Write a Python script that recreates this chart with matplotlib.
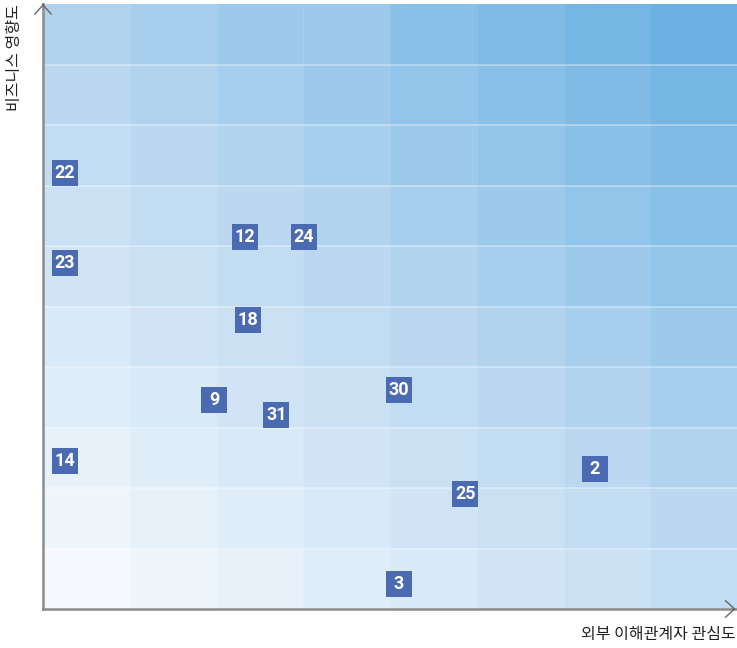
import matplotlib.pyplot as plt
from matplotlib.patches import Rectangle
import numpy as np

plt.rcParams['font.family'] = ['Noto Sans CJK KR', 'DejaVu Sans']

# issue numbers and their positions (x: stakeholder interest, y: business impact)
issue_ids = ["22", "12", "24", "23", "18", "9", "30", "31", "14", "2", "25", "3"]
interest = [0.25, 2.33, 3.01, 0.25, 2.36, 1.97, 4.10, 2.69, 0.25, 6.36, 4.87, 4.10]
impact = [7.21, 6.15, 6.15, 5.72, 4.78, 3.45, 3.62, 3.21, 2.45, 2.31, 1.90, 0.41]

# shade level of each background cell, top row first
shade = [
    [9, 10, 11, 11, 13, 14, 15, 16],
    [8, 9, 10, 11, 12, 13, 14, 15],
    [7, 8, 9, 10, 11, 12, 13, 14],
    [6, 7, 8, 9, 10, 11, 12, 13],
    [5, 6, 7, 8, 9, 10, 11, 12],
    [4, 5, 6, 7, 8, 9, 10, 11],
    [3, 4, 5, 6, 7, 8, 9, 10],
    [2, 3, 4, 5, 6, 7, 8, 9],
    [1, 2, 3, 4, 5, 6, 7, 8],
    [0, 1, 2, 3, 4, 5, 6, 7],
]

n_rows = len(shade)
n_cols = len(shade[0])
ramp = np.array([[0xf5, 0xf9, 0xfd], [0xbb, 0xd8, 0xf0], [0x6b, 0xb1, 0xe2]]) / 255


def shade_color(level):
    if level <= 8:
        t = level / 8
        return ramp[0] + (ramp[1] - ramp[0]) * t
    t = (level - 8) / 8
    return ramp[1] + (ramp[2] - ramp[1]) * t


fig = plt.figure(figsize=(7.37, 6.48), dpi=100)
ax = fig.add_axes([43 / 737, 1 - 609 / 648, (737 - 43) / 737, 605 / 648])
ax.set_xlim(0, n_cols)
ax.set_ylim(0, n_rows)

for r in range(n_rows):
    for c in range(n_cols):
        ax.add_patch(Rectangle((c, n_rows - 1 - r), 1, 1, facecolor=shade_color(shade[r][c]),
                               edgecolor='none', zorder=1))
# thin light row separators
for r in range(1, n_rows):
    ax.axhline(r, color='white', lw=1.2, alpha=0.4, zorder=2)
for c in range(1, n_cols):
    ax.axvline(c, color='white', lw=0.8, alpha=0.1, zorder=2)

ax.scatter(interest, impact, marker='s', s=370, color='#4a6bb2', zorder=4, linewidths=0)
for name, x, y in zip(issue_ids, interest, impact):
    ax.text(x, y, name, ha='center', va='center', color='white', fontsize=13,
            fontweight='bold', family=['Roboto', 'DejaVu Sans'], zorder=5)

for s in ax.spines.values():
    s.set_visible(False)
ax.set_xticks([])
ax.set_yticks([])

ax.plot([0, 1], [0, 0], transform=ax.transAxes, color='#8c8c8c', lw=1.8, clip_on=False, zorder=6)
ax.plot([0, 0], [0, 1], transform=ax.transAxes, color='#8c8c8c', lw=1.8, clip_on=False, zorder=6)
head = '->, head_length=0.33, head_width=0.3'
ax.annotate('', xy=(0.998, 0), xytext=(0.994, 0), xycoords='axes fraction',
            arrowprops=dict(arrowstyle=head, color='#666666', lw=1.0, mutation_scale=20),
            annotation_clip=False, zorder=7)
ax.annotate('', xy=(0, 1.0), xytext=(0, 0.995), xycoords='axes fraction',
            arrowprops=dict(arrowstyle=head, color='#666666', lw=1.0, mutation_scale=20),
            annotation_clip=False, zorder=7)

fig.text(736 / 737, 1 - 634 / 648, '외부 이해관계자 관심도', ha='right', va='center', fontsize=11.5, color='#222222')
fig.text(15 / 737, 1 - 4 / 648, '비즈니스 영향도', ha='center', va='top', rotation=90, fontsize=11.5, color='#222222')

fig.savefig('out.png', dpi=100)
